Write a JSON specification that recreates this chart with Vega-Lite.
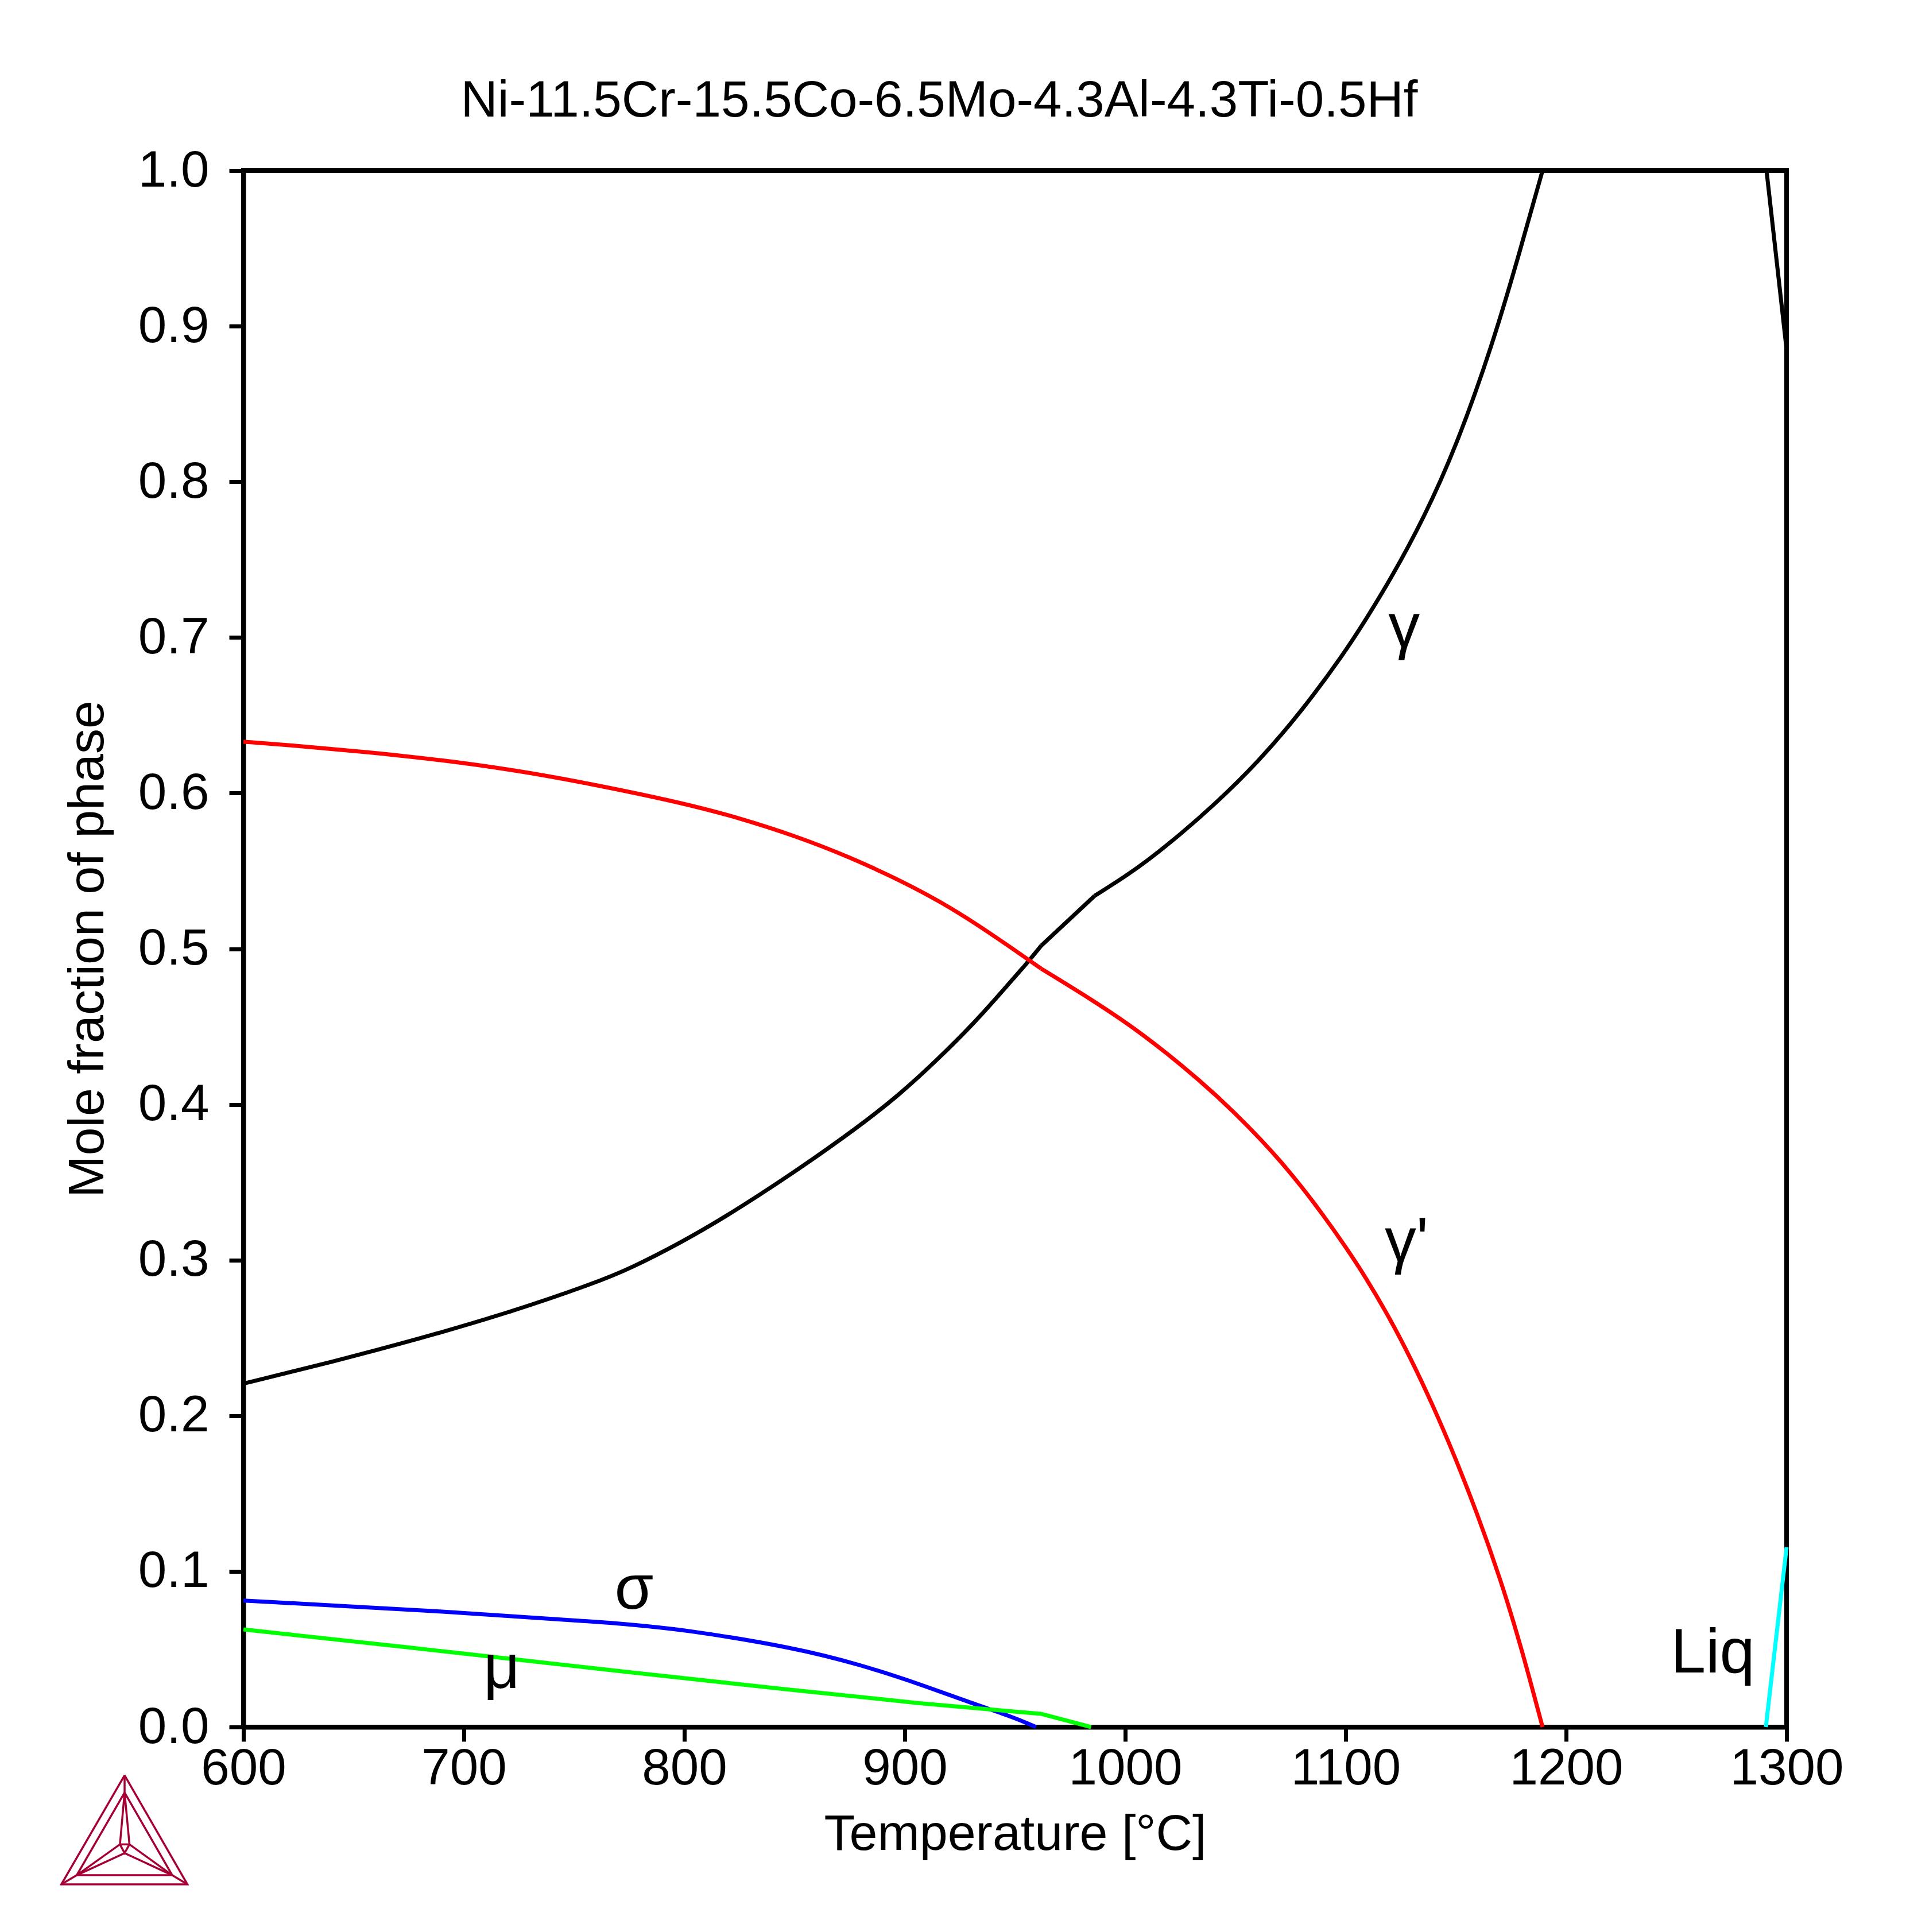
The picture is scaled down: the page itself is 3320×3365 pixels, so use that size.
{
  "$schema": "https://vega.github.io/schema/vega-lite/v6.json",
  "width": 2688,
  "height": 2711,
  "autosize": {"type": "none"},
  "padding": {"left": 424, "top": 297, "right": 208, "bottom": 357},
  "background": "white",
  "title": {
    "text": "Ni-11.5Cr-15.5Co-6.5Mo-4.3Al-4.3Ti-0.5Hf",
    "anchor": "middle",
    "frame": "group",
    "dx": -132,
    "offset": -39,
    "baseline": "alphabetic",
    "font": "Liberation Sans",
    "fontSize": 89,
    "fontWeight": "normal",
    "color": "black"
  },
  "config": {
    "view": {"stroke": "black", "strokeWidth": 8},
    "axis": {
      "domainColor": "black",
      "domainWidth": 8,
      "tickColor": "black",
      "tickWidth": 7,
      "tickSize": 25,
      "grid": false,
      "labelFont": "Liberation Sans",
      "labelFontSize": 89,
      "labelColor": "black",
      "labelFlush": false,
      "labelOverlap": false,
      "labelLimit": 0,
      "titleFont": "Liberation Sans",
      "titleFontSize": 88,
      "titleFontWeight": "normal",
      "titleColor": "black",
      "titleLimit": 0
    }
  },
  "datasets": {
    "smooth": [
      {"seg": "g1", "phase": "gamma", "T": 600, "f": 0.2206},
      {"seg": "g1", "phase": "gamma", "T": 640, "f": 0.2345},
      {"seg": "g1", "phase": "gamma", "T": 680, "f": 0.2495},
      {"seg": "g1", "phase": "gamma", "T": 720, "f": 0.266},
      {"seg": "g1", "phase": "gamma", "T": 760, "f": 0.2855},
      {"seg": "g1", "phase": "gamma", "T": 776, "f": 0.295},
      {"seg": "g1", "phase": "gamma", "T": 797.5, "f": 0.3105},
      {"seg": "g1", "phase": "gamma", "T": 819, "f": 0.328},
      {"seg": "g1", "phase": "gamma", "T": 849, "f": 0.3555},
      {"seg": "g1", "phase": "gamma", "T": 879.5, "f": 0.386},
      {"seg": "g1", "phase": "gamma", "T": 898.6, "f": 0.4075},
      {"seg": "g1", "phase": "gamma", "T": 915, "f": 0.429},
      {"seg": "g1", "phase": "gamma", "T": 932, "f": 0.453},
      {"seg": "g1", "phase": "gamma", "T": 945, "f": 0.474},
      {"seg": "g1", "phase": "gamma", "T": 955, "f": 0.490},
      {"seg": "g1", "phase": "gamma", "T": 961.9, "f": 0.502},
      {"seg": "g3", "phase": "gamma", "T": 986.1, "f": 0.534},
      {"seg": "g3", "phase": "gamma", "T": 1000, "f": 0.5465},
      {"seg": "g3", "phase": "gamma", "T": 1010, "f": 0.5565},
      {"seg": "g3", "phase": "gamma", "T": 1025, "f": 0.5735},
      {"seg": "g3", "phase": "gamma", "T": 1040, "f": 0.592},
      {"seg": "g3", "phase": "gamma", "T": 1060, "f": 0.6195},
      {"seg": "g3", "phase": "gamma", "T": 1080, "f": 0.6525},
      {"seg": "g3", "phase": "gamma", "T": 1099.4, "f": 0.690},
      {"seg": "g3", "phase": "gamma", "T": 1109.6, "f": 0.7125},
      {"seg": "g3", "phase": "gamma", "T": 1121, "f": 0.739},
      {"seg": "g3", "phase": "gamma", "T": 1135, "f": 0.7754},
      {"seg": "g3", "phase": "gamma", "T": 1150, "f": 0.822},
      {"seg": "g3", "phase": "gamma", "T": 1166.6, "f": 0.888},
      {"seg": "g3", "phase": "gamma", "T": 1178.6, "f": 0.946},
      {"seg": "g3", "phase": "gamma", "T": 1189.3, "f": 1.0},
      {"seg": "r1", "phase": "gammap", "T": 600, "f": 0.633},
      {"seg": "r1", "phase": "gammap", "T": 620, "f": 0.631},
      {"seg": "r1", "phase": "gammap", "T": 654, "f": 0.6267},
      {"seg": "r1", "phase": "gammap", "T": 689, "f": 0.6215},
      {"seg": "r1", "phase": "gammap", "T": 723, "f": 0.6148},
      {"seg": "r1", "phase": "gammap", "T": 754, "f": 0.607},
      {"seg": "r1", "phase": "gammap", "T": 800, "f": 0.5935},
      {"seg": "r1", "phase": "gammap", "T": 825, "f": 0.584},
      {"seg": "r1", "phase": "gammap", "T": 850, "f": 0.5727},
      {"seg": "r1", "phase": "gammap", "T": 875, "f": 0.559},
      {"seg": "r1", "phase": "gammap", "T": 900, "f": 0.5425},
      {"seg": "r1", "phase": "gammap", "T": 916, "f": 0.5303},
      {"seg": "r1", "phase": "gammap", "T": 932, "f": 0.5165},
      {"seg": "r1", "phase": "gammap", "T": 955.6, "f": 0.4935},
      {"seg": "r1", "phase": "gammap", "T": 961.9, "f": 0.4872},
      {"seg": "r2", "phase": "gammap", "T": 961.9, "f": 0.4872},
      {"seg": "r2", "phase": "gammap", "T": 985, "f": 0.4672},
      {"seg": "r2", "phase": "gammap", "T": 1008, "f": 0.4455},
      {"seg": "r2", "phase": "gammap", "T": 1035, "f": 0.4142},
      {"seg": "r2", "phase": "gammap", "T": 1050, "f": 0.3942},
      {"seg": "r2", "phase": "gammap", "T": 1062.4, "f": 0.3762},
      {"seg": "r2", "phase": "gammap", "T": 1070.2, "f": 0.3639},
      {"seg": "r2", "phase": "gammap", "T": 1079.6, "f": 0.3479},
      {"seg": "r2", "phase": "gammap", "T": 1089.2, "f": 0.3301},
      {"seg": "r2", "phase": "gammap", "T": 1099.7, "f": 0.3091},
      {"seg": "r2", "phase": "gammap", "T": 1109, "f": 0.2891},
      {"seg": "r2", "phase": "gammap", "T": 1119.5, "f": 0.2639},
      {"seg": "r2", "phase": "gammap", "T": 1129.4, "f": 0.2372},
      {"seg": "r2", "phase": "gammap", "T": 1139.5, "f": 0.2069},
      {"seg": "r2", "phase": "gammap", "T": 1149.2, "f": 0.1749},
      {"seg": "r2", "phase": "gammap", "T": 1159.6, "f": 0.1375},
      {"seg": "r2", "phase": "gammap", "T": 1170, "f": 0.0959},
      {"seg": "r2", "phase": "gammap", "T": 1179.4, "f": 0.0527},
      {"seg": "r2", "phase": "gammap", "T": 1189.3, "f": 0.0},
      {"seg": "s1", "phase": "sigma", "T": 600, "f": 0.0812},
      {"seg": "s1", "phase": "sigma", "T": 681, "f": 0.0752},
      {"seg": "s1", "phase": "sigma", "T": 770.7, "f": 0.0668},
      {"seg": "s1", "phase": "sigma", "T": 800, "f": 0.0626},
      {"seg": "s1", "phase": "sigma", "T": 850, "f": 0.051},
      {"seg": "s1", "phase": "sigma", "T": 880, "f": 0.04},
      {"seg": "s1", "phase": "sigma", "T": 906, "f": 0.028},
      {"seg": "s1", "phase": "sigma", "T": 933, "f": 0.014},
      {"seg": "s1", "phase": "sigma", "T": 949, "f": 0.0065},
      {"seg": "s1", "phase": "sigma", "T": 959.5, "f": 0.0},
      {"seg": "m1", "phase": "mu", "T": 600, "f": 0.0627},
      {"seg": "m1", "phase": "mu", "T": 700, "f": 0.0473},
      {"seg": "m1", "phase": "mu", "T": 770.7, "f": 0.0358},
      {"seg": "m1", "phase": "mu", "T": 850, "f": 0.0237},
      {"seg": "m1", "phase": "mu", "T": 906, "f": 0.0151},
      {"seg": "m1", "phase": "mu", "T": 961.7, "f": 0.0085}
    ],
    "straight": [
      {"seg": "g2", "phase": "gamma", "T": 961.9, "f": 0.502},
      {"seg": "g2", "phase": "gamma", "T": 986.1, "f": 0.534},
      {"seg": "g4", "phase": "gamma", "T": 1189.3, "f": 1.0},
      {"seg": "g4", "phase": "gamma", "T": 1290.9, "f": 1.0},
      {"seg": "g4", "phase": "gamma", "T": 1300, "f": 0.885},
      {"seg": "m2", "phase": "mu", "T": 961.7, "f": 0.0085},
      {"seg": "m2", "phase": "mu", "T": 984.5, "f": 0.0},
      {"seg": "l1", "phase": "liq", "T": 1290.6, "f": 0.0},
      {"seg": "l1", "phase": "liq", "T": 1300, "f": 0.1155}
    ],
    "labels": [
      {"label": "γ", "T": 1126.5, "f": 0.694},
      {"label": "γ'", "T": 1127.6, "f": 0.299},
      {"label": "σ", "T": 777.2, "f": 0.076},
      {"label": "μ", "T": 717.2, "f": 0.025},
      {"label": "Liq", "T": 1266.5, "f": 0.035}
    ],
    "logo": [
      {"part": "outer", "i": 0, "T": 546.1, "f": -0.031},
      {"part": "outer", "i": 1, "T": 517.4, "f": -0.1011},
      {"part": "outer", "i": 2, "T": 574.6, "f": -0.1011},
      {"part": "outer", "i": 3, "T": 546.1, "f": -0.031},
      {"part": "inner", "i": 0, "T": 546.1, "f": -0.0421},
      {"part": "inner", "i": 1, "T": 524.4, "f": -0.0952},
      {"part": "inner", "i": 2, "T": 567.7, "f": -0.0952},
      {"part": "inner", "i": 3, "T": 546.1, "f": -0.0421},
      {"part": "top", "i": 0, "T": 546.1, "f": -0.031},
      {"part": "top", "i": 1, "T": 546.1, "f": -0.0421},
      {"part": "left", "i": 0, "T": 517.4, "f": -0.1011},
      {"part": "left", "i": 1, "T": 524.4, "f": -0.0952},
      {"part": "right", "i": 0, "T": 574.6, "f": -0.1011},
      {"part": "right", "i": 1, "T": 567.7, "f": -0.0952},
      {"part": "spine", "i": 0, "T": 524.4, "f": -0.0952},
      {"part": "spine", "i": 1, "T": 544.0, "f": -0.0754},
      {"part": "spine", "i": 2, "T": 546.1, "f": -0.0421},
      {"part": "spine", "i": 3, "T": 548.3, "f": -0.0754},
      {"part": "spine", "i": 4, "T": 567.7, "f": -0.0952},
      {"part": "bar", "i": 0, "T": 544.0, "f": -0.0754},
      {"part": "bar", "i": 1, "T": 548.3, "f": -0.0754},
      {"part": "base", "i": 0, "T": 524.4, "f": -0.0952},
      {"part": "base", "i": 1, "T": 546.1, "f": -0.081},
      {"part": "base", "i": 2, "T": 567.7, "f": -0.0952},
      {"part": "vee", "i": 0, "T": 544.0, "f": -0.0754},
      {"part": "vee", "i": 1, "T": 546.1, "f": -0.081},
      {"part": "vee", "i": 2, "T": 548.3, "f": -0.0754}
    ]
  },
  "encoding": {
    "x": {
      "field": "T",
      "type": "quantitative",
      "scale": {"domain": [600, 1300], "nice": false, "zero": false},
      "axis": {
        "title": "Temperature [°C]",
        "values": [600, 700, 800, 900, 1000, 1100, 1200, 1300],
        "format": "d",
        "labelPadding": 4,
        "titlePadding": 26
      }
    },
    "y": {
      "field": "f",
      "type": "quantitative",
      "scale": {"domain": [0, 1], "nice": false, "zero": false},
      "axis": {
        "title": "Mole fraction of phase",
        "values": [0, 0.1, 0.2, 0.3, 0.4, 0.5, 0.6, 0.7, 0.8, 0.9, 1.0],
        "format": ".1f",
        "labelPadding": 35,
        "titlePadding": 43
      }
    }
  },
  "layer": [
    {
      "data": {"name": "smooth"},
      "mark": {"type": "line", "interpolate": "basis", "strokeWidth": 7},
      "encoding": {
        "color": {
          "field": "phase",
          "type": "nominal",
          "scale": {"domain": ["gamma", "gammap", "sigma", "mu", "liq"], "range": ["#000000", "#ff0000", "#0000ff", "#00ff00", "#00ffff"]},
          "legend": null
        },
        "detail": {"field": "seg"}
      }
    },
    {
      "data": {"name": "straight"},
      "mark": {"type": "line", "interpolate": "linear", "strokeWidth": 7},
      "encoding": {
        "color": {
          "field": "phase",
          "type": "nominal",
          "scale": {"domain": ["gamma", "gammap", "sigma", "mu", "liq"], "range": ["#000000", "#ff0000", "#0000ff", "#00ff00", "#00ffff"]},
          "legend": null
        },
        "detail": {"field": "seg"}
      }
    },
    {
      "data": {"name": "labels"},
      "mark": {"type": "text", "font": "Liberation Sans", "fontSize": 110, "align": "center", "baseline": "alphabetic", "color": "black"},
      "encoding": {"text": {"field": "label"}}
    },
    {
      "data": {"name": "logo"},
      "mark": {"type": "line", "color": "#A50034", "strokeWidth": 3.5},
      "encoding": {
        "detail": {"field": "part"},
        "order": {"field": "i", "type": "quantitative"}
      }
    }
  ]
}
